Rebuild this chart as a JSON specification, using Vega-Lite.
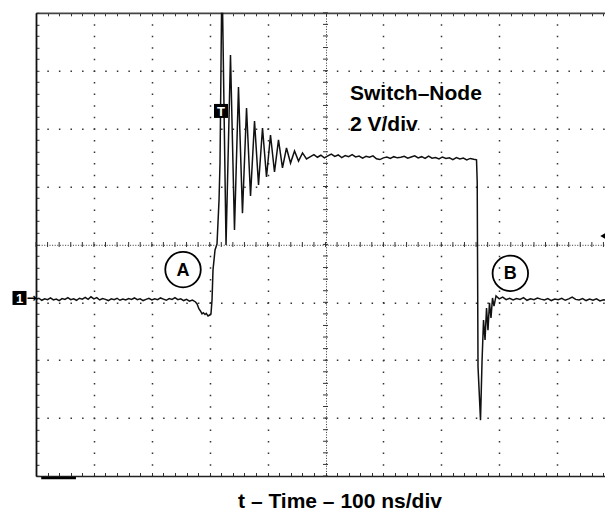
{
  "$schema": "https://vega.github.io/schema/vega-lite/v6.json",
  "width": 569,
  "height": 463.2,
  "autosize": {"type": "none"},
  "padding": {"left": 36, "top": 12.8, "right": 0, "bottom": 38},
  "background": "white",
  "config": {"view": {"stroke": null}, "font": "Liberation Sans"},
  "resolve": {"axis": {"x": "independent", "y": "independent"}},
  "layer": [
    {
      "data": {"values": [
        {"t":0,"v":0.10},{"t":5,"v":0.14},{"t":10,"v":0.07},{"t":15,"v":0.12},{"t":20,"v":0.09},{"t":25,"v":0.15},{"t":30,"v":0.08},{"t":35,"v":0.11},{"t":40,"v":0.06},{"t":45,"v":0.13},
        {"t":50,"v":0.10},{"t":55,"v":0.16},{"t":60,"v":0.09},{"t":65,"v":0.12},{"t":70,"v":0.07},{"t":75,"v":0.14},{"t":80,"v":0.11},{"t":85,"v":0.17},{"t":90,"v":0.10},{"t":95,"v":0.19},
        {"t":100,"v":0.12},{"t":105,"v":0.16},{"t":110,"v":0.08},{"t":115,"v":0.13},{"t":120,"v":0.10},{"t":125,"v":0.06},{"t":130,"v":0.12},{"t":135,"v":0.09},{"t":140,"v":0.14},{"t":145,"v":0.07},
        {"t":150,"v":0.11},{"t":155,"v":0.08},{"t":160,"v":0.13},{"t":165,"v":0.10},{"t":170,"v":0.15},{"t":175,"v":0.09},{"t":180,"v":0.12},{"t":185,"v":0.06},{"t":190,"v":0.10},{"t":195,"v":0.14},
        {"t":200,"v":0.08},{"t":205,"v":0.12},{"t":210,"v":0.09},{"t":215,"v":0.15},{"t":220,"v":0.11},{"t":225,"v":0.07},{"t":230,"v":0.13},{"t":235,"v":0.10},{"t":240,"v":0.16},{"t":245,"v":0.09},
        {"t":250,"v":0.12},{"t":255,"v":0.06},{"t":260,"v":0.10},{"t":265,"v":0.04},{"t":270,"v":0.08},{"t":275,"v":0.02},
        {"t":278,"v":-0.05},{"t":281.5,"v":-0.23},{"t":284,"v":-0.30},{"t":286.7,"v":-0.40},{"t":289,"v":-0.36},{"t":291.9,"v":-0.42},{"t":294,"v":-0.38},{"t":297.1,"v":-0.47},{"t":300,"v":-0.44},{"t":302.2,"v":-0.40},
        {"t":304.0,"v":0.08},{"t":305.7,"v":1.12},{"t":309.2,"v":1.81},{"t":312.6,"v":2.01},{"t":316.1,"v":3.53},{"t":317.8,"v":4.81},{"t":321.2,"v":11.5},
        {"t":328.2,"v":1.98},{"t":335.9,"v":8.54},{"t":342.8,"v":2.50},{"t":349.7,"v":7.44},{"t":356.6,"v":3.08},{"t":363.6,"v":6.71},{"t":370.5,"v":3.67},{"t":377.4,"v":6.26},{"t":384.3,"v":4.05},
        {"t":391.2,"v":6.02},{"t":398.1,"v":4.33},{"t":405.0,"v":5.78},{"t":411.9,"v":4.50},{"t":418.8,"v":5.61},{"t":425.7,"v":4.64},{"t":432.6,"v":5.33},{"t":439.6,"v":4.81},{"t":446.5,"v":5.23},{"t":453.4,"v":4.88},
        {"t":460.3,"v":5.16},{"t":467.2,"v":4.95},
        {"t":474,"v":5.03},{"t":480,"v":5.10},{"t":486,"v":5.01},{"t":492,"v":5.08},{"t":498,"v":4.99},{"t":504,"v":5.06},{"t":510,"v":5.12},{"t":516,"v":5.04},{"t":522,"v":5.09},{"t":528,"v":5.00},
        {"t":534,"v":5.07},{"t":540,"v":5.03},{"t":546,"v":5.10},{"t":552,"v":5.02},{"t":558,"v":5.05},{"t":564,"v":4.98},{"t":570,"v":5.04},{"t":576,"v":5.01},{"t":582,"v":5.06},{"t":588,"v":4.96},
        {"t":594,"v":4.93},{"t":600,"v":4.99},{"t":606,"v":5.02},{"t":612,"v":4.97},{"t":618,"v":5.03},{"t":624,"v":4.99},{"t":630,"v":5.01},{"t":636,"v":5.04},{"t":642,"v":4.98},{"t":648,"v":5.02},
        {"t":654,"v":5.06},{"t":660,"v":4.99},{"t":666,"v":5.03},{"t":672,"v":4.97},{"t":678,"v":5.05},{"t":684,"v":4.98},{"t":690,"v":5.00},{"t":696,"v":4.95},{"t":702,"v":5.02},{"t":708,"v":4.97},
        {"t":714,"v":4.99},{"t":720,"v":4.93},{"t":726,"v":5.00},{"t":732,"v":4.95},{"t":738,"v":4.98},{"t":744,"v":4.92},{"t":750,"v":4.97},{"t":756,"v":4.94},{"t":760.8,"v":4.92},
        {"t":762,"v":4.16},{"t":763.4,"v":-2.23},{"t":767.7,"v":-4.07},{"t":770.3,"v":-2.06},{"t":772.9,"v":-0.61},{"t":775.5,"v":-1.30},{"t":778.1,"v":-0.20},{"t":780.6,"v":-0.96},{"t":783.2,"v":-0.02},{"t":785.8,"v":-0.54},
        {"t":788.4,"v":0.15},{"t":791.0,"v":-0.13},{"t":794.5,"v":0.22},
        {"t":800,"v":0.12},{"t":806,"v":0.18},{"t":812,"v":0.09},{"t":818,"v":0.14},{"t":824,"v":0.08},{"t":830,"v":0.13},{"t":836,"v":0.10},{"t":842,"v":0.16},{"t":848,"v":0.07},{"t":854,"v":0.12},
        {"t":860,"v":0.09},{"t":866,"v":0.15},{"t":872,"v":0.11},{"t":878,"v":0.08},{"t":884,"v":0.13},{"t":890,"v":0.06},{"t":896,"v":0.11},{"t":902,"v":0.09},{"t":908,"v":0.14},{"t":914,"v":0.07},
        {"t":920,"v":0.12},{"t":926,"v":0.18},{"t":932,"v":0.10},{"t":938,"v":0.08},{"t":944,"v":0.13},{"t":950,"v":0.06},{"t":956,"v":0.11},{"t":962,"v":0.07},{"t":968,"v":0.12},{"t":974,"v":0.05},
        {"t":980,"v":0.09},{"t":986,"v":0.06}
      ]},
      "mark": {"type": "line", "color": "#111", "strokeWidth": 1.5, "clip": true},
      "encoding": {
        "x": {
          "field": "t", "type": "quantitative",
          "scale": {"domain": [0, 982.7], "nice": false, "zero": false},
          "axis": {
            "orient": "bottom",
            "values": [0,20,40,60,80,100,120,140,160,180,200,220,240,260,280,300,320,340,360,380,400,420,440,460,480,500,520,540,560,580,600,620,640,660,680,700,720,740,760,780,800,820,840,860,880,900,920,940,960,980],
            "labels": false,
            "domain": true, "domainColor": "#222", "domainWidth": 1.5,
            "ticks": true, "tickColor": "#333", "tickWidth": 1, "tickSize": -3.5,
            "grid": true,
            "gridColor": "#333",
            "gridWidth": {"condition": {"test": "datum.value === 500", "value": 1}, "value": 1.5},
            "gridDash": {"condition": {"test": "datum.value === 500", "value": [1, 1.6]}, "value": [1.5, 10.08]},
            "gridDashOffset": {"condition": {"test": "datum.value === 500", "value": 0}, "value": 0.75},
            "gridOpacity": {"condition": {"test": "datum.value % 100 === 0 && datum.value > 0", "value": 1}, "value": 0},
            "title": "t – Time – 100 ns/div",
            "titleFont": "Liberation Sans", "titleFontSize": 21, "titleFontWeight": "bold", "titleColor": "#000",
            "titleX": 303.5, "titleY": 31, "titleBaseline": "alphabetic", "titleAlign": "center"
          }
        },
        "y": {
          "field": "v", "type": "quantitative",
          "scale": {"domain": [-6, 10], "nice": false, "zero": false},
          "axis": {
            "orient": "left",
            "values": [-6,-5.6,-5.2,-4.8,-4.4,-4,-3.6,-3.2,-2.8,-2.4,-2,-1.6,-1.2,-0.8,-0.4,0,0.4,0.8,1.2,1.6,2,2.4,2.8,3.2,3.6,4,4.4,4.8,5.2,5.6,6,6.4,6.8,7.2,7.6,8,8.4,8.8,9.2,9.6,10],
            "labels": false, "title": null,
            "domain": true, "domainColor": "#111", "domainWidth": 1.8,
            "ticks": true, "tickColor": "#333", "tickWidth": 1, "tickSize": -3,
            "grid": true,
            "gridColor": "#333",
            "gridWidth": {"condition": {"test": "datum.value === 2", "value": 1}, "value": 1.5},
            "gridDash": {"condition": {"test": "datum.value === 2", "value": [1, 1.6]}, "value": [1.5, 10.08]},
            "gridDashOffset": {"condition": {"test": "datum.value === 2", "value": 0}, "value": 0.75},
            "gridOpacity": {"condition": {"test": "datum.value % 2 === 0 && datum.value > -6 && datum.value !== 10", "value": 1}, "value": 0}
          }
        }
      }
    },
    {
      "data": {"values": [
        {"t":0},{"t":20},{"t":40},{"t":60},{"t":80},{"t":100},{"t":120},{"t":140},{"t":160},{"t":180},{"t":200},{"t":220},{"t":240},{"t":260},{"t":280},{"t":300},{"t":320},{"t":340},{"t":360},{"t":380},
        {"t":400},{"t":420},{"t":440},{"t":460},{"t":480},{"t":500},{"t":520},{"t":540},{"t":560},{"t":580},{"t":600},{"t":620},{"t":640},{"t":660},{"t":680},{"t":700},{"t":720},{"t":740},{"t":760},{"t":780},
        {"t":800},{"t":820},{"t":840},{"t":860},{"t":880},{"t":900},{"t":920},{"t":940},{"t":960},{"t":980}
      ]},
      "mark": {"type": "tick", "orient": "vertical", "size": 5, "thickness": 1, "color": "#333", "opacity": 1},
      "encoding": {
        "x": {"field": "t", "type": "quantitative", "axis": null},
        "y": {"datum": 2, "type": "quantitative", "axis": null}
      }
    },
    {
      "data": {"values": [
        {"v":-6},{"v":-5.6},{"v":-5.2},{"v":-4.8},{"v":-4.4},{"v":-4},{"v":-3.6},{"v":-3.2},{"v":-2.8},{"v":-2.4},{"v":-2},{"v":-1.6},{"v":-1.2},{"v":-0.8},{"v":-0.4},{"v":0},{"v":0.4},{"v":0.8},{"v":1.2},{"v":1.6},
        {"v":2},{"v":2.4},{"v":2.8},{"v":3.2},{"v":3.6},{"v":4},{"v":4.4},{"v":4.8},{"v":5.2},{"v":5.6},{"v":6},{"v":6.4},{"v":6.8},{"v":7.2},{"v":7.6},{"v":8},{"v":8.4},{"v":8.8},{"v":9.2},{"v":9.6},{"v":10}
      ]},
      "mark": {"type": "tick", "orient": "horizontal", "size": 5, "thickness": 1, "color": "#333", "opacity": 1},
      "encoding": {
        "x": {"datum": 500, "type": "quantitative", "axis": null},
        "y": {"field": "v", "type": "quantitative", "axis": null}
      }
    },
    {
      "data": {"values": [{"t": 253.9, "v": 1.13, "label": "A"}, {"t": 819.2, "v": 1.0, "label": "B"}]},
      "mark": {"type": "point", "shape": "circle", "size": 1260, "filled": false, "stroke": "#000", "strokeWidth": 1.8, "opacity": 1},
      "encoding": {
        "x": {"field": "t", "type": "quantitative",
          "axis": {
            "orient": "top",
            "values": [0,20,40,60,80,100,120,140,160,180,200,220,240,260,280,300,320,340,360,380,400,420,440,460,480,500,520,540,560,580,600,620,640,660,680,700,720,740,760,780,800,820,840,860,880,900,920,940,960,980],
            "labels": false, "title": null, "grid": false,
            "domain": true, "domainColor": "#444", "domainWidth": 1.8,
            "ticks": true, "tickColor": "#333", "tickWidth": 1, "tickSize": -3
          }
        },
        "y": {"field": "v", "type": "quantitative", "axis": null}
      }
    },
    {
      "data": {"values": [{"t": 253.9, "v": 1.13, "label": "A"}, {"t": 819.2, "v": 1.0, "label": "B"}]},
      "mark": {"type": "text", "font": "Liberation Sans", "fontSize": 18, "fontWeight": "bold", "color": "#000", "align": "center", "baseline": "middle", "dy": 1},
      "encoding": {
        "x": {"field": "t", "type": "quantitative", "axis": null},
        "y": {"field": "v", "type": "quantitative", "axis": null},
        "text": {"field": "label"}
      }
    },
    {
      "data": {"values": [{"t": 542.3, "v": 6.99, "label": "Switch–Node"}, {"t": 542.3, "v": 5.93, "label": "2 V/div"}]},
      "mark": {"type": "text", "font": "Liberation Sans", "fontSize": 21, "fontWeight": "bold", "color": "#000", "align": "left", "baseline": "alphabetic"},
      "encoding": {
        "x": {"field": "t", "type": "quantitative", "axis": null},
        "y": {"field": "v", "type": "quantitative", "axis": null},
        "text": {"field": "label"}
      }
    },
    {
      "data": {"values": [{"t": -28.5, "v": 0.15, "label": "1"}, {"t": 319.5, "v": 6.61, "label": "T"}]},
      "mark": {"type": "point", "shape": "square", "size": 196, "filled": true, "color": "#000", "opacity": 1},
      "encoding": {
        "x": {"field": "t", "type": "quantitative", "axis": null},
        "y": {"field": "v", "type": "quantitative", "axis": null}
      }
    },
    {
      "data": {"values": [{"t": -28.5, "v": 0.15, "label": "1"}, {"t": 319.5, "v": 6.61, "label": "T"}]},
      "mark": {"type": "text", "font": "Liberation Sans", "fontSize": 13, "fontWeight": "bold", "color": "#fff", "align": "center", "baseline": "middle", "dy": 1},
      "encoding": {
        "x": {"field": "t", "type": "quantitative", "axis": null},
        "y": {"field": "v", "type": "quantitative", "axis": null},
        "text": {"field": "label"}
      }
    },
    {
      "data": {"values": [{"t": -7.8, "v": 0.15, "label": "→"}]},
      "mark": {"type": "text", "font": "DejaVu Sans", "fontSize": 12, "fontWeight": "bold", "color": "#000", "align": "center", "baseline": "middle"},
      "encoding": {
        "x": {"field": "t", "type": "quantitative", "axis": null},
        "y": {"field": "v", "type": "quantitative", "axis": null},
        "text": {"field": "label"}
      }
    },
    {
      "data": {"values": [{"t": 979.3, "v": 2.29}]},
      "mark": {"type": "point", "shape": "triangle-left", "size": 40, "filled": true, "color": "#000", "opacity": 1},
      "encoding": {
        "x": {"field": "t", "type": "quantitative", "axis": null},
        "y": {"field": "v", "type": "quantitative", "axis": null}
      }
    },
    {
      "data": {"values": [{"t": 9, "t2": 69, "v": -6.07}]},
      "mark": {"type": "rule", "color": "#000", "strokeWidth": 2.5},
      "encoding": {
        "x": {"field": "t", "type": "quantitative", "axis": null},
        "x2": {"field": "t2"},
        "y": {"field": "v", "type": "quantitative", "axis": null}
      }
    }
  ]
}
